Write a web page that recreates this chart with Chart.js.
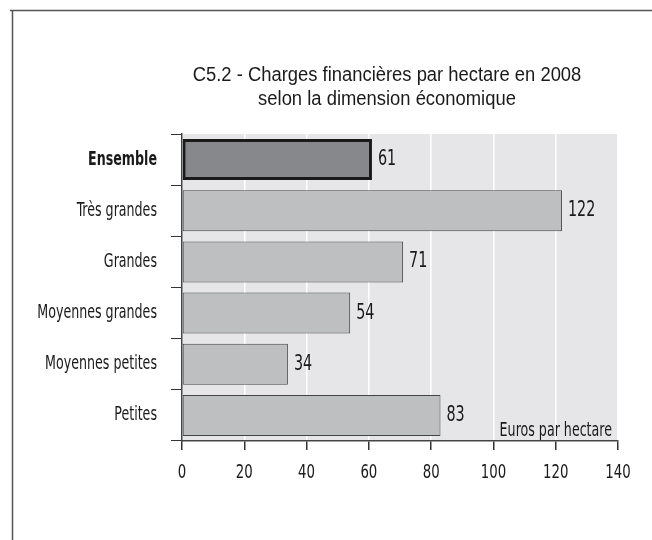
<!DOCTYPE html>
<html>
<head>
<meta charset="utf-8">
<script src="https://cdn.jsdelivr.net/npm/chart.js@4"></script>
<style>
html,body{margin:0;padding:0;background:#fff;}
#wrap{position:relative;width:652px;height:540px;}
</style>
</head>
<body>
<div id="wrap"><canvas id="c" width="652" height="540"></canvas></div>
<script>
const categories = ["Ensemble", "Très grandes", "Grandes", "Moyennes grandes", "Moyennes petites", "Petites"];
const values = [61, 122, 71, 54, 34, 83];
const titleLines = ["C5.2 - Charges financières par hectare en 2008", "selon la dimension économique"];
const unitLabel = "Euros par hectare";
const xTicks = [0, 20, 40, 60, 80, 100, 120, 140];

const NARROW = '"DejaVu Sans Condensed", "Liberation Sans Narrow", sans-serif';
const REG = '"Liberation Sans", Arial, sans-serif';
const SX = 0.76; // horizontal squeeze to mimic the condensed face

function squeezedText(ctx, text, x, y, align, sx) {
  const w = ctx.measureText(text).width * sx;
  let left = x;
  if (align === 'right') left = x - w;
  else if (align === 'center') left = x - w / 2;
  ctx.save();
  ctx.translate(left, y);
  ctx.scale(sx, 1);
  ctx.textAlign = 'left';
  ctx.fillText(text, 0, 0);
  ctx.restore();
}

const deco = {
  id: 'deco',
  beforeDraw(chart) {
    const {ctx, chartArea: a} = chart;
    ctx.save();
    ctx.fillStyle = '#e6e6e8';
    ctx.fillRect(a.left, a.top, a.right - a.left, a.bottom - a.top);
    ctx.strokeStyle = '#555';
    ctx.lineWidth = 1.5;
    ctx.beginPath();
    ctx.moveTo(10, 10.5); ctx.lineTo(652, 10.5);
    ctx.moveTo(12.5, 10); ctx.lineTo(12.5, 540);
    ctx.stroke();
    ctx.fillStyle = '#1a1a1a';
    ctx.font = '20px ' + REG;
    ctx.textBaseline = 'middle';
    squeezedText(ctx, titleLines[0], 387, 75, 'center', 0.92);
    squeezedText(ctx, titleLines[1], 387, 99, 'center', 0.92);
    ctx.restore();
  },
  afterDraw(chart) {
    const {ctx, chartArea: a} = chart;
    const meta = chart.getDatasetMeta(0);
    const ys = chart.scales.y, xs = chart.scales.x;
    ctx.save();
    ctx.fillStyle = '#1a1a1a';
    ctx.textBaseline = 'middle';
    ctx.font = '21px ' + NARROW;
    meta.data.forEach((bar, i) => {
      squeezedText(ctx, String(values[i]), bar.x + 6, bar.y, 'left', SX);
    });
    categories.forEach((c, i) => {
      ctx.font = (i === 0 ? 'bold ' : '') + '19px ' + NARROW;
      squeezedText(ctx, c, a.left - 25, ys.getPixelForValue(i), 'right', 0.74);
    });
    ctx.font = '20px ' + NARROW;
    xTicks.forEach(v => {
      squeezedText(ctx, String(v), xs.getPixelForValue(v), a.bottom + 32, 'center', 0.74);
    });
    ctx.textBaseline = 'alphabetic';
    ctx.font = '19px ' + NARROW;
    squeezedText(ctx, unitLabel, a.right - 6, a.bottom - 5, 'right', 0.74);
    ctx.restore();
  }
};

new Chart(document.getElementById('c'), {
  type: 'bar',
  data: {
    labels: categories,
    datasets: [{
      data: values,
      backgroundColor: values.map((v, i) => i === 0 ? '#87888b' : '#bebfc1'),
      borderColor: values.map((v, i) => i === 0 ? '#1a1a1a' : '#444'),
      borderWidth: values.map((v, i) => i === 0 ? 3 : 1),
      borderSkipped: false,
      barPercentage: 0.8,
      categoryPercentage: 1.0
    }]
  },
  options: {
    indexAxis: 'y',
    responsive: false,
    animation: false,
    devicePixelRatio: 1,
    layout: {padding: {top: 134, right: 34, left: 0, bottom: 0}},
    plugins: {legend: {display: false}, title: {display: false}, tooltip: {enabled: false}},
    scales: {
      x: {
        min: 0, max: 140,
        afterFit(s) { s.height = 99; },
        afterBuildTicks(s) { s.ticks = xTicks.map(v => ({value: v})); },
        grid: {color: '#ffffff', lineWidth: 1.5, tickColor: '#333', tickLength: 9, drawTicks: true},
        border: {display: true, color: '#444', width: 1.5},
        ticks: {display: false}
      },
      y: {
        afterFit(s) { s.width = 182; },
        grid: {drawOnChartArea: false, color: '#333', tickLength: 11, offset: true},
        border: {display: true, color: '#444', width: 1.5},
        ticks: {display: false}
      }
    }
  },
  plugins: [deco]
});
</script>
</body>
</html>
